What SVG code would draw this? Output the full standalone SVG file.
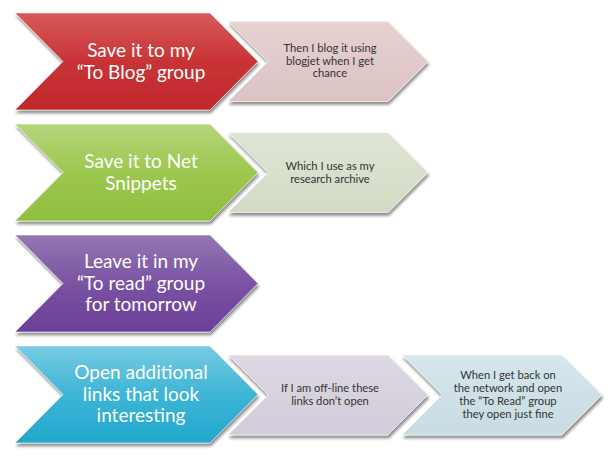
<svg xmlns="http://www.w3.org/2000/svg" width="613" height="456" viewBox="0 0 613 456">
  <defs>
    <filter id="sh" x="-10%" y="-10%" width="120%" height="130%">
      <feGaussianBlur in="SourceAlpha" stdDeviation="1.6"/>
      <feOffset dx="1" dy="3" result="b"/>
      <feComponentTransfer><feFuncA type="linear" slope="0.45"/></feComponentTransfer>
      <feMerge><feMergeNode/><feMergeNode in="SourceGraphic"/></feMerge>
    </filter>
    <linearGradient id="gRed" x1="0" y1="0" x2="0" y2="1">
      <stop offset="0" stop-color="#d65a58"/>
      <stop offset="0.5" stop-color="#c93336"/>
      <stop offset="1" stop-color="#c0282b"/>
    </linearGradient>
    <linearGradient id="gGreen" x1="0" y1="0" x2="0" y2="1">
      <stop offset="0" stop-color="#b6d57d"/>
      <stop offset="0.5" stop-color="#9cc74f"/>
      <stop offset="1" stop-color="#8fbf3e"/>
    </linearGradient>
    <linearGradient id="gPurple" x1="0" y1="0" x2="0" y2="1">
      <stop offset="0" stop-color="#9577b3"/>
      <stop offset="0.5" stop-color="#7a52a3"/>
      <stop offset="1" stop-color="#6b3f98"/>
    </linearGradient>
    <linearGradient id="gBlue" x1="0" y1="0" x2="0" y2="1">
      <stop offset="0" stop-color="#78cbe2"/>
      <stop offset="0.5" stop-color="#3db5d6"/>
      <stop offset="1" stop-color="#21a7cc"/>
    </linearGradient>
    <linearGradient id="gPink" x1="0" y1="0" x2="0" y2="1">
      <stop offset="0" stop-color="#e7d1d1"/>
      <stop offset="1" stop-color="#ddc3c3"/>
    </linearGradient>
    <linearGradient id="gLGreen" x1="0" y1="0" x2="0" y2="1">
      <stop offset="0" stop-color="#dfe5d5"/>
      <stop offset="1" stop-color="#d3dac5"/>
    </linearGradient>
    <linearGradient id="gLav" x1="0" y1="0" x2="0" y2="1">
      <stop offset="0" stop-color="#ddd8e2"/>
      <stop offset="1" stop-color="#d2ccda"/>
    </linearGradient>
    <linearGradient id="gLBlue" x1="0" y1="0" x2="0" y2="1">
      <stop offset="0" stop-color="#d6e6eb"/>
      <stop offset="1" stop-color="#c8dce3"/>
    </linearGradient>
  </defs>
  <style>
    .chev { filter: url(#sh); stroke: #ffffff; stroke-opacity: 0.55; stroke-width: 1; }
    .big { font-family: Lato, "Open Sans", sans-serif; font-size: 19px; fill: #ffffff; text-anchor: middle; }
    .small { font-family: Lato, "Open Sans", sans-serif; font-size: 11.2px; fill: #333333; text-anchor: middle; }
  </style>
  <rect width="613" height="456" fill="#ffffff"/>

  <g id="connectors"/>

  <!-- Row 1 -->
  <g id="node-save-to-blog">
    <polygon class="chev" fill="url(#gRed)" points="15,13 210,13 258,61.5 210,110 15,110 63,61.5"/>
    <text class="big" x="141" y="57">Save it to my</text>
    <text class="big" x="141" y="79">“To Blog” group</text>
  </g>
  <g id="node-blog-it">
    <polygon class="chev" fill="url(#gPink)" points="228,21.5 388,21.5 428,61.5 388,101.5 228,101.5 268,61.5"/>
    <text class="small" x="330" y="52">Then I blog it using</text>
    <text class="small" x="330" y="64.5">blogjet when I get</text>
    <text class="small" x="330" y="77">chance</text>
  </g>

  <!-- Row 2 -->
  <g id="node-net-snippets">
    <polygon class="chev" fill="url(#gGreen)" points="15,124 210,124 258,172.5 210,221 15,221 63,172.5"/>
    <text class="big" x="141" y="168">Save it to Net</text>
    <text class="big" x="141" y="190">Snippets</text>
  </g>
  <g id="node-research-archive">
    <polygon class="chev" fill="url(#gLGreen)" points="228,132.5 388,132.5 428,172.5 388,212.5 228,212.5 268,172.5"/>
    <text class="small" x="330" y="170">Which I use as my</text>
    <text class="small" x="330" y="183">research archive</text>
  </g>

  <!-- Row 3 -->
  <g id="node-to-read">
    <polygon class="chev" fill="url(#gPurple)" points="15,235 210,235 258,283.5 210,332 15,332 63,283.5"/>
    <text class="big" x="141" y="268">Leave it in my</text>
    <text class="big" x="141" y="289.5">“To read” group</text>
    <text class="big" x="141" y="311">for tomorrow</text>
  </g>

  <!-- Row 4 -->
  <g id="node-open-links">
    <polygon class="chev" fill="url(#gBlue)" points="15,346 210,346 258,394.5 210,443 15,443 63,394.5"/>
    <text class="big" x="141" y="379">Open additional</text>
    <text class="big" x="141" y="400.5">links that look</text>
    <text class="big" x="141" y="422">interesting</text>
  </g>
  <g id="node-offline">
    <polygon class="chev" fill="url(#gLav)" points="228,355 388,355 428,395 388,435 228,435 268,395"/>
    <text class="small" x="330" y="392">If I am off-line these</text>
    <text class="small" x="330" y="405">links don’t open</text>
  </g>
  <g id="node-back-online">
    <polygon class="chev" fill="url(#gLBlue)" points="402,355 562,355 602,395 562,435 402,435 442,395"/>
    <text class="small" x="508" y="379">When I get back on</text>
    <text class="small" x="508" y="392">the network and open</text>
    <text class="small" x="508" y="405">the “To Read” group</text>
    <text class="small" x="508" y="418">they open just fine</text>
  </g>
</svg>
